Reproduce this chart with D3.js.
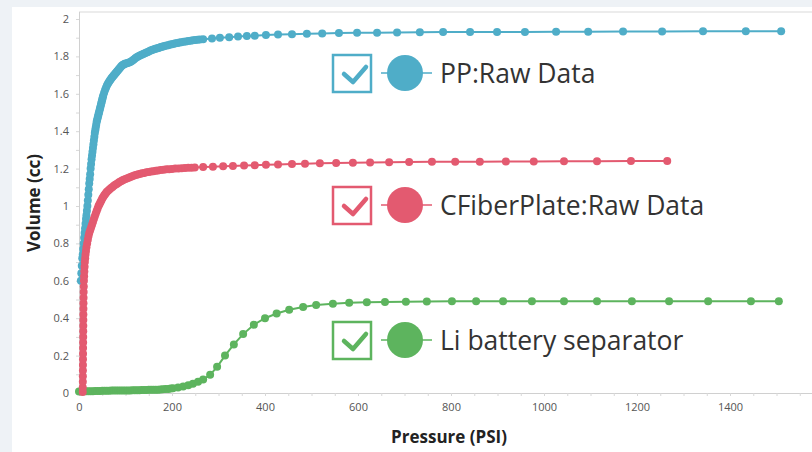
<!DOCTYPE html>
<html>
<head>
<meta charset="utf-8">
<script src="https://cdn.jsdelivr.net/npm/d3@7"></script>
<style>
  html, body { margin: 0; padding: 0; background: #eef2f6; }
  svg { display: block; }
  text { font-family: "Open Sans", "Noto Sans", sans-serif; }
</style>
</head>
<body>
<svg id="chart" width="812" height="452"></svg>
<script>
// Series names as shown in the legend
const seriesNames = ["PP:Raw Data", "CFiberPlate:Raw Data", "Li battery separator"];
const seriesColors = ["#4fadc8", "#e35a70", "#5db45e"];

// PP: pressure (PSI) and volume (cc)
const ppPressure = [4, 5, 6, 7, 8, 9, 10, 11, 12, 13, 14, 15, 16, 17, 18, 19, 20, 21, 22, 23,
  24, 25, 26, 27, 28, 29, 30, 31, 32, 33, 34, 35, 36, 37, 38, 39, 40, 41, 42, 43,
  44, 45, 46, 47, 48, 49, 50, 51, 52, 54, 56, 58, 60, 62, 64, 66, 68, 70, 72, 74,
  76, 78, 80, 82, 84, 86, 88, 90, 92, 94, 96, 98, 100, 103, 106, 109, 112, 115, 118, 121,
  124, 127, 130, 133, 136, 139, 142, 145, 148, 151, 154, 157, 160, 163, 166, 169, 172, 175, 178, 181,
  184, 188, 192, 196, 200, 204, 208, 212, 216, 220, 225, 230, 235, 240, 245, 250, 255, 260, 267, 286,
  303, 323, 342, 361, 378, 402, 428, 458, 490, 523, 559, 598, 641, 684, 733, 783, 841, 899, 959, 1026,
  1095, 1170, 1254, 1342, 1434, 1510];
const ppVolume = [0.60, 0.64, 0.68, 0.72, 0.74, 0.77, 0.80, 0.83, 0.855, 0.88, 0.905, 0.93, 0.95, 0.975, 1.00, 1.03, 1.06, 1.09, 1.12, 1.145,
  1.17, 1.20, 1.225, 1.25, 1.27, 1.29, 1.31, 1.33, 1.35, 1.37, 1.39, 1.405, 1.42, 1.435, 1.45, 1.46, 1.47, 1.48, 1.49, 1.50,
  1.51, 1.52, 1.53, 1.54, 1.55, 1.56, 1.57, 1.58, 1.59, 1.605, 1.62, 1.632, 1.644, 1.654, 1.662, 1.67, 1.677, 1.684, 1.69, 1.696,
  1.702, 1.708, 1.714, 1.72, 1.726, 1.732, 1.738, 1.744, 1.75, 1.754, 1.757, 1.76, 1.762, 1.764, 1.766, 1.769, 1.773, 1.778, 1.784, 1.79,
  1.795, 1.799, 1.803, 1.807, 1.81, 1.814, 1.817, 1.821, 1.824, 1.828, 1.831, 1.834, 1.837, 1.84, 1.842, 1.844, 1.846, 1.849, 1.851, 1.853,
  1.855, 1.858, 1.86, 1.863, 1.865, 1.867, 1.87, 1.872, 1.874, 1.876, 1.878, 1.88, 1.882, 1.884, 1.886, 1.888, 1.889, 1.89, 1.892, 1.896,
  1.90, 1.903, 1.906, 1.909, 1.911, 1.914, 1.917, 1.919, 1.921, 1.923, 1.925, 1.926, 1.927, 1.928, 1.929, 1.93, 1.93, 1.931, 1.931, 1.932,
  1.932, 1.933, 1.933, 1.934, 1.934, 1.935];

// CFiberPlate: pressure (PSI) and volume (cc)
const cfPressure = [8, 8.1, 8.2, 8.3, 8.4, 8.5, 8.6, 8.7, 8.8, 8.9, 9, 9.1, 9.2, 9.3, 9.4, 9.5, 9.6, 9.8, 10, 10.3,
  10.6, 11, 11.5, 12, 12.6, 13.3, 14, 15, 16, 17.5, 19, 20.5, 22, 24, 26, 28, 30, 32, 34, 36,
  38, 40, 42, 44, 46, 48, 50, 52, 54, 56, 58, 60, 63, 66, 69, 72, 75, 78, 81, 84,
  87, 90, 93, 96, 100, 104, 108, 112, 116, 120, 124, 128, 132, 136, 140, 145, 150, 155, 160, 165,
  170, 176, 182, 188, 194, 200, 207, 214, 221, 228, 235, 242, 249, 267, 288, 310, 331, 355, 378, 402,
  428, 458, 486, 518, 553, 589, 626, 667, 710, 759, 809, 862, 918, 978, 1043, 1114, 1187, 1265];
const cfVolume = [0.005, 0.03, 0.06, 0.09, 0.12, 0.15, 0.18, 0.21, 0.24, 0.27, 0.30, 0.33, 0.36, 0.39, 0.42, 0.45, 0.48, 0.51, 0.54, 0.57,
  0.60, 0.625, 0.65, 0.675, 0.70, 0.72, 0.74, 0.76, 0.78, 0.80, 0.82, 0.84, 0.855, 0.87, 0.885, 0.90, 0.915, 0.93, 0.945, 0.96,
  0.973, 0.986, 1.0, 1.01, 1.02, 1.03, 1.04, 1.048, 1.056, 1.063, 1.07, 1.076, 1.083, 1.09, 1.096, 1.102, 1.108, 1.113, 1.118, 1.123,
  1.128, 1.132, 1.136, 1.14, 1.145, 1.149, 1.153, 1.157, 1.161, 1.164, 1.167, 1.17, 1.173, 1.175, 1.177, 1.18, 1.182, 1.184, 1.186, 1.188,
  1.19, 1.192, 1.194, 1.196, 1.197, 1.198, 1.20, 1.201, 1.202, 1.203, 1.204, 1.205, 1.206, 1.208, 1.21, 1.212, 1.214, 1.216, 1.218, 1.22,
  1.222, 1.224, 1.226, 1.228, 1.23, 1.231, 1.232, 1.234, 1.235, 1.236, 1.237, 1.237, 1.238, 1.238, 1.239, 1.239, 1.24, 1.24];

// Li battery separator: pressure (PSI) and volume (cc)
const liPressure = [0, 5, 10, 15, 20, 25, 30, 35, 40, 45, 50, 55, 60, 65, 70, 75, 80, 85, 90, 95,
  100, 105, 110, 115, 120, 125, 130, 135, 140, 145, 150, 155, 160, 165, 170, 175, 180, 186, 192, 197,
  202, 213, 224, 235, 245, 256, 267, 282, 297, 314, 333, 353, 376, 400, 425, 452, 482, 510, 546, 581,
  619, 658, 703, 748, 802, 854, 912, 974, 1043, 1114, 1189, 1269, 1353, 1445, 1505];
const liVolume = [0.008, 0.008, 0.009, 0.009, 0.01, 0.01, 0.01, 0.011, 0.011, 0.011, 0.012, 0.012, 0.012, 0.012, 0.013, 0.013, 0.013, 0.013, 0.014, 0.014,
  0.014, 0.014, 0.014, 0.015, 0.015, 0.015, 0.015, 0.016, 0.016, 0.016, 0.017, 0.017, 0.017, 0.018, 0.018, 0.019, 0.02, 0.021, 0.022, 0.024,
  0.026, 0.03, 0.035, 0.042, 0.05, 0.06, 0.072, 0.097, 0.14, 0.2, 0.26, 0.315, 0.365, 0.40, 0.425, 0.445, 0.46, 0.47, 0.477, 0.482,
  0.485, 0.487, 0.488, 0.489, 0.49, 0.49, 0.49, 0.49, 0.49, 0.49, 0.49, 0.49, 0.49, 0.49, 0.49];

// Axis ticks
const xTicks = [0, 200, 400, 600, 800, 1000, 1200, 1400];
const yTicks = [0, 0.2, 0.4, 0.6, 0.8, 1, 1.2, 1.4, 1.6, 1.8, 2];
const xLabel = "Pressure (PSI)";
const yLabel = "Volume (cc)";

const series = [
  { name: seriesNames[0], color: seriesColors[0], p: ppPressure, v: ppVolume },
  { name: seriesNames[1], color: seriesColors[1], p: cfPressure, v: cfVolume },
  { name: seriesNames[2], color: seriesColors[2], p: liPressure, v: liVolume }
];

const W = 812, H = 452;
const plot = { left: 79, right: 812, top: 12, bottom: 393 };

const svg = d3.select("#chart");

// page backdrop and white panel
svg.append("rect").attr("width", W).attr("height", H).attr("fill", "#eef2f6");
svg.append("rect").attr("x", 12).attr("y", 7).attr("width", W - 12).attr("height", H - 7).attr("fill", "#ffffff");

const x = d3.scaleLinear().domain([0, 1400]).range([79, 730]);
const y = d3.scaleLinear().domain([0, 2]).range([393, 19]);

svg.append("defs").append("clipPath").attr("id", "plotClip")
  .append("rect").attr("x", plot.left - 6).attr("y", plot.top - 6)
  .attr("width", plot.right - plot.left + 6).attr("height", plot.bottom - plot.top + 12);

// top frame line
svg.append("line").attr("x1", plot.left).attr("x2", plot.right).attr("y1", plot.top).attr("y2", plot.top)
  .attr("stroke", "#d9d9d9").attr("stroke-width", 1);

// minor tick positions
const minorX = d3.range(0, 1601, 50);
const minorY = d3.range(0, 2.001, 0.1);

const xAxis = svg.append("g").attr("transform", `translate(0,${plot.bottom})`)
  .call(d3.axisBottom(x).tickValues(xTicks).tickFormat(d3.format("d")).tickSize(0).tickPadding(10));
xAxis.select(".domain").remove();
xAxis.append("line").attr("x1", plot.left).attr("x2", plot.right).attr("y1", 0.5).attr("y2", 0.5)
  .attr("stroke", "#d0d0d0");
xAxis.selectAll(".minor").data(minorX.filter(d => x(d) <= plot.right)).enter().append("line")
  .attr("x1", d => x(d) + 0.5).attr("x2", d => x(d) + 0.5).attr("y1", 0).attr("y2", 3)
  .attr("stroke", "#d8d8d8");
xAxis.selectAll(".tick text").attr("fill", "#555").style("font-size", "11px");

const yAxis = svg.append("g").attr("transform", `translate(${plot.left},0)`)
  .call(d3.axisLeft(y).tickValues(yTicks).tickFormat(d => d3.format("~g")(d)).tickSize(0).tickPadding(10));
yAxis.select(".domain").remove();
yAxis.append("line").attr("x1", 0.5).attr("x2", 0.5).attr("y1", plot.top).attr("y2", plot.bottom)
  .attr("stroke", "#d0d0d0");
yAxis.selectAll(".minor").data(minorY).enter().append("line")
  .attr("x1", -3).attr("x2", 0).attr("y1", d => y(d) + 0.5).attr("y2", d => y(d) + 0.5)
  .attr("stroke", "#d8d8d8");
yAxis.selectAll(".tick text").attr("fill", "#555").style("font-size", "11px");

// axis titles
svg.append("text").attr("x", 449).attr("y", 443).attr("text-anchor", "middle")
  .style("font-size", "17px").style("font-weight", "bold").attr("fill", "#222").text(xLabel);
svg.append("text").attr("transform", "translate(40,203) rotate(-90)").attr("text-anchor", "middle")
  .style("font-size", "17px").style("font-weight", "bold").attr("fill", "#222").text(yLabel);

// data series: lines with dot markers
const line = d3.line().x(d => x(d[0])).y(d => y(d[1]));
const plotG = svg.append("g").attr("clip-path", "url(#plotClip)");
[series[2], series[0], series[1]].forEach(s => {
  const pts = s.p.map((p, i) => [p, s.v[i]]);
  const g = plotG.append("g");
  g.append("path").datum(pts).attr("d", line).attr("fill", "none")
    .attr("stroke", s.color).attr("stroke-width", 2);
  g.selectAll("circle").data(pts).enter().append("circle")
    .attr("cx", d => x(d[0])).attr("cy", d => y(d[1])).attr("r", 4).attr("fill", s.color);
});

// legend entries: checkbox, line with marker, label
const legendRows = [73, 205, 340];
series.forEach((s, i) => {
  const cy = legendRows[i];
  const g = svg.append("g").attr("transform", `translate(0,${cy})`);
  g.append("rect").attr("x", 333).attr("y", -18).attr("width", 38).attr("height", 37)
    .attr("fill", "#fff").attr("stroke", s.color).attr("stroke-width", 2.5);
  g.append("path").attr("d", "M344,1 L353,9 L366,-6").attr("fill", "none")
    .attr("stroke", s.color).attr("stroke-width", 4.5).attr("stroke-linecap", "round").attr("stroke-linejoin", "round");
  g.append("line").attr("x1", 381).attr("x2", 432).attr("y1", 0).attr("y2", 0)
    .attr("stroke", s.color).attr("stroke-width", 1.5);
  g.append("circle").attr("cx", 405).attr("cy", 0).attr("r", 18).attr("fill", s.color);
  g.append("text").attr("x", 440).attr("y", 10).style("font-size", "26.5px").attr("fill", "#333").text(s.name);
});
</script>
</body>
</html>
